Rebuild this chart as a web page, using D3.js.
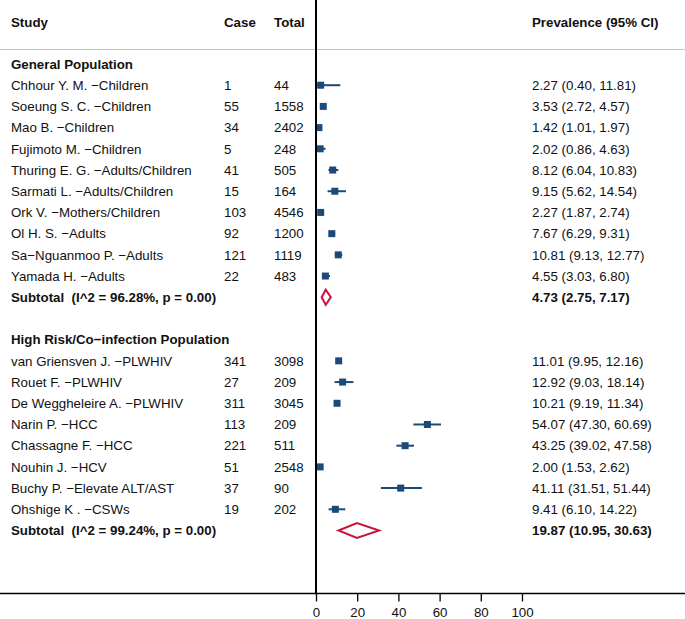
<!DOCTYPE html>
<html>
<head>
<meta charset="utf-8">
<script src="https://cdn.jsdelivr.net/npm/d3@7"></script>
<style>
  html, body { margin: 0; padding: 0; background: #fff; }
  svg { display: block; }
  text { font-family: "Liberation Sans", Arial, Helvetica, sans-serif; font-size: 13.3px; fill: #111; white-space: pre; }
</style>
</head>
<body>
<svg id="chart" width="685" height="619"></svg>
<script>
// ---- data ----
const groupNames = ["General Population", "High Risk/Co\u2212infection Population"];

const studies1 = ["Chhour Y. M. \u2212Children", "Soeung S. C. \u2212Children", "Mao B. \u2212Children", "Fujimoto M. \u2212Children",
  "Thuring E. G. \u2212Adults/Children", "Sarmati L. \u2212Adults/Children", "Ork V. \u2212Mothers/Children", "Ol H. S. \u2212Adults",
  "Sa\u2212Nguanmoo P. \u2212Adults", "Yamada H. \u2212Adults"];
const cases1 = [1, 55, 34, 5, 41, 15, 103, 92, 121, 22];
const totals1 = [44, 1558, 2402, 248, 505, 164, 4546, 1200, 1119, 483];
const est1 = [2.27, 3.53, 1.42, 2.02, 8.12, 9.15, 2.27, 7.67, 10.81, 4.55];
const lo1 = [0.40, 2.72, 1.01, 0.86, 6.04, 5.62, 1.87, 6.29, 9.13, 3.03];
const hi1 = [11.81, 4.57, 1.97, 4.63, 10.83, 14.54, 2.74, 9.31, 12.77, 6.80];

const studies2 = ["van Griensven J. \u2212PLWHIV", "Rouet F. \u2212PLWHIV", "De Weggheleire A. \u2212PLWHIV", "Narin P. \u2212HCC",
  "Chassagne F. \u2212HCC", "Nouhin J. \u2212HCV", "Buchy P. \u2212Elevate ALT/AST", "Ohshige K . \u2212CSWs"];
const cases2 = [341, 27, 311, 113, 221, 51, 37, 19];
const totals2 = [3098, 209, 3045, 209, 511, 2548, 90, 202];
const est2 = [11.01, 12.92, 10.21, 54.07, 43.25, 2.00, 41.11, 9.41];
const lo2 = [9.95, 9.03, 9.19, 47.30, 39.02, 1.53, 31.51, 6.10];
const hi2 = [12.16, 18.14, 11.34, 60.69, 47.58, 2.62, 51.44, 14.22];

const subLabels = ["Subtotal  (I^2 = 96.28%, p = 0.00)", "Subtotal  (I^2 = 99.24%, p = 0.00)"];
const subEst = [4.73, 19.87];
const subLo = [2.75, 10.95];
const subHi = [7.17, 30.63];

const xTicks = [0, 20, 40, 60, 80, 100];
const headers = ["Study", "Case", "Total", "Prevalence (95% CI)"];

// ---- build rows ----
const rows = [];
function addGroup(name, studies, cases, totals, est, lo, hi, subLabel, se, sl, sh) {
  rows.push({ type: "group", label: name });
  studies.forEach((s, i) => rows.push({ type: "study", label: s, c: cases[i], n: totals[i], e: est[i], l: lo[i], h: hi[i] }));
  rows.push({ type: "sub", label: subLabel, e: se, l: sl, h: sh });
}
addGroup(groupNames[0], studies1, cases1, totals1, est1, lo1, hi1, subLabels[0], subEst[0], subLo[0], subHi[0]);
rows.push({ type: "blank" });
addGroup(groupNames[1], studies2, cases2, totals2, est2, lo2, hi2, subLabels[1], subEst[1], subLo[1], subHi[1]);

// ---- layout ----
const W = 685, H = 619;
const svg = d3.select("#chart");
const x = d3.scaleLinear().domain([0, 100]).range([316, 522]);
const y = d3.scaleLinear().domain([0, rows.length - 1]).range([64, 530.5]);
const axisY = 593.5;
const colStudy = 11, colCase = 224, colTotal = 274, colPrev = 532;
const blue = "#1c4a78", red = "#c8133a";
const fmt = d3.format(".2f");

// header separator
svg.append("line").attr("x1", 0).attr("x2", W).attr("y1", 49.5).attr("y2", 49.5)
  .attr("stroke", "#c4c4c4").attr("stroke-width", 1.2);

// headers
const hx = [colStudy, colCase, colTotal, colPrev];
headers.forEach((h, i) => {
  svg.append("text").attr("x", hx[i]).attr("y", 27).attr("font-weight", "bold").text(h);
});

// row texts and marks
rows.forEach((r, i) => {
  const cy = y(i);
  const ty = cy + 4.8;
  if (r.type === "group") {
    svg.append("text").attr("x", colStudy).attr("y", ty).attr("font-weight", "bold").text(r.label);
  } else if (r.type === "study") {
    svg.append("text").attr("x", colStudy).attr("y", ty).text(r.label);
    svg.append("text").attr("x", colCase).attr("y", ty).text(r.c);
    svg.append("text").attr("x", colTotal).attr("y", ty).text(r.n);
    svg.append("text").attr("x", colPrev).attr("y", ty).text(`${fmt(r.e)} (${fmt(r.l)}, ${fmt(r.h)})`);
    svg.append("line").attr("x1", x(r.l)).attr("x2", x(r.h)).attr("y1", cy).attr("y2", cy)
      .attr("stroke", blue).attr("stroke-width", 2);
    const s = 7;
    svg.append("rect").attr("x", x(r.e) - s / 2).attr("y", cy - s / 2).attr("width", s).attr("height", s)
      .attr("fill", blue);
  } else if (r.type === "sub") {
    svg.append("text").attr("x", colStudy).attr("y", ty).attr("font-weight", "bold").text(r.label);
    svg.append("text").attr("x", colPrev).attr("y", ty).attr("font-weight", "bold")
      .text(`${fmt(r.e)} (${fmt(r.l)}, ${fmt(r.h)})`);
    const hh = 7.5;
    const pts = [[x(r.l), cy], [x(r.e), cy - hh], [x(r.h), cy], [x(r.e), cy + hh]];
    svg.append("path").attr("d", "M" + pts.map(p => p.join(",")).join("L") + "Z")
      .attr("fill", "#fff").attr("stroke", red).attr("stroke-width", 2).attr("stroke-linejoin", "miter");
  }
});

// zero line
svg.append("line").attr("x1", x(0)).attr("x2", x(0)).attr("y1", 0).attr("y2", axisY)
  .attr("stroke", "#000").attr("stroke-width", 2);

// x axis
svg.append("line").attr("x1", 0).attr("x2", W).attr("y1", axisY).attr("y2", axisY)
  .attr("stroke", "#000").attr("stroke-width", 1.3);
const axis = d3.axisBottom(x).tickValues(xTicks).tickSize(8).tickPadding(6).tickFormat(d3.format("d"));
const ag = svg.append("g").attr("transform", `translate(0,${axisY})`).call(axis);
ag.select(".domain").remove();
ag.selectAll(".tick line").attr("stroke", "#000").attr("stroke-width", 1.3);
ag.selectAll(".tick text").attr("font-size", 13.3).attr("font-family", "Liberation Sans, Arial, sans-serif")
  .attr("fill", "#111").attr("dy", null).attr("y", 23.5);
</script>
</body>
</html>
